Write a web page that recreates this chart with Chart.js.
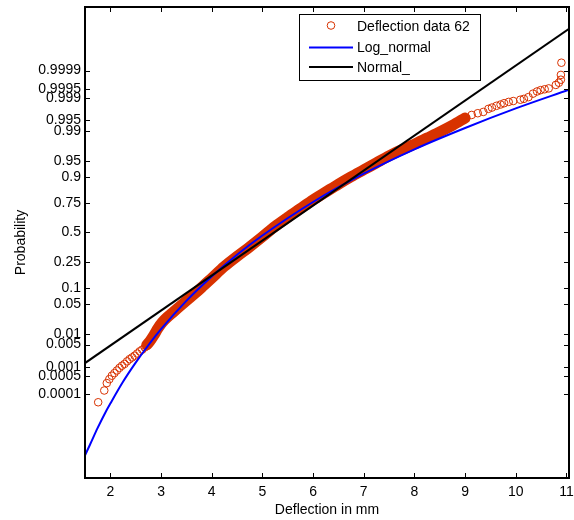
<!DOCTYPE html>
<html>
<head>
<meta charset="utf-8">
<script src="https://cdn.jsdelivr.net/npm/chart.js@4"></script>
<style>
  html, body { margin: 0; padding: 0; background: #fff; }
  canvas { display: block; }
</style>
</head>
<body>
<canvas id="probChart" width="574" height="520"></canvas>
<script>
// y values are normal quantiles (the probability-plot scale), x is deflection in mm

// sparse lower tail of the sample
const lowTailX = [1.76, 1.88, 1.93, 1.98, 2.03, 2.08, 2.13, 2.18, 2.23, 2.28, 2.33, 2.38, 2.43, 2.48, 2.53, 2.58, 2.63, 2.68]
const lowTailZ = [-3.90, -3.63, -3.46, -3.37, -3.29, -3.23, -3.17, -3.11, -3.06, -3.02, -2.96, -2.91, -2.87, -2.83, -2.78, -2.73, -2.69, -2.64]

// dense middle of the sample (overlapping markers)
const denseX = [2.72, 2.78, 2.86, 2.94, 3.02, 3.12, 3.25, 3.40, 3.55, 3.70, 3.85, 4.00, 4.25, 4.50, 4.75, 5.00, 5.25, 5.50, 5.75, 6.00, 6.25, 6.50, 6.75, 7.00, 7.25, 7.50, 7.75, 8.00, 8.25, 8.50, 8.75, 9.00]
const denseZ = [-2.58, -2.50, -2.36, -2.20, -2.07, -1.95, -1.82, -1.67, -1.52, -1.37, -1.21, -1.05, -0.78, -0.55, -0.33, -0.10, 0.14, 0.35, 0.55, 0.75, 0.93, 1.11, 1.28, 1.44, 1.60, 1.76, 1.90, 2.03, 2.17, 2.31, 2.46, 2.63]

// sparse upper tail
const highTailX = [9.13, 9.25, 9.36, 9.46, 9.53, 9.62, 9.70, 9.77, 9.86, 9.95, 10.09, 10.16, 10.25, 10.34, 10.42, 10.49, 10.57, 10.65, 10.79, 10.85, 10.89, 10.89, 10.90]
const highTailZ = [2.70, 2.74, 2.77, 2.84, 2.87, 2.91, 2.94, 2.97, 3.00, 3.02, 3.05, 3.07, 3.11, 3.19, 3.24, 3.27, 3.29, 3.31, 3.39, 3.44, 3.51, 3.62, 3.90]

// fitted lines
const logNormX = [1.5, 1.6, 1.75, 1.9, 2.0, 2.25, 2.5, 2.75, 3.0, 3.5, 4.0, 4.5, 5.0, 6.0, 7.0, 8.0, 9.0, 10.0, 11.05]
const logNormZ = [-5.12, -4.87, -4.49, -4.14, -3.93, -3.43, -2.99, -2.59, -2.22, -1.57, -1.01, -0.51, -0.07, 0.70, 1.35, 1.91, 2.40, 2.85, 3.28]
const normX = [1.5, 11.05]
const normZ = [-3.00, 4.68]

const xTicks = [2, 3, 4, 5, 6, 7, 8, 9, 10, 11]
const yTickLabels = ['0.0001', '0.0005', '0.001', '0.005', '0.01', '0.05', '0.1', '0.25', '0.5', '0.75', '0.9', '0.95', '0.99', '0.995', '0.999', '0.9995', '0.9999']

const seriesNames = ['Deflection data 62', 'Log_normal', 'Normal_']
const RED = '#d83200'
const FONT = "'Liberation Sans', Arial, sans-serif"

// inverse standard normal cdf (Acklam)
function norminv(p) {
    const a = [-3.969683028665376e+01, 2.209460984245205e+02, -2.759285104469687e+02, 1.383577518672690e+02, -3.066479806614716e+01, 2.506628277459239e+00]
    const b = [-5.447609879822406e+01, 1.615858368580409e+02, -1.556989798598866e+02, 6.680131188771972e+01, -1.328068155288572e+01]
    const c = [-7.784894002430293e-03, -3.223964580411365e-01, -2.400758277161838e+00, -2.549671010229583e+00, 4.374664141464968e+00, 2.938163982698783e+00]
    const d = [7.784695709041462e-03, 3.224671290700398e-01, 2.445134137142996e+00, 3.754408661907416e+00]
    const lo = 0.02425
    if (p < lo) {
        const q = Math.sqrt(-2 * Math.log(p))
        return (((((c[0] * q + c[1]) * q + c[2]) * q + c[3]) * q + c[4]) * q + c[5]) / ((((d[0] * q + d[1]) * q + d[2]) * q + d[3]) * q + 1)
    }
    if (p > 1 - lo) {
        const q = Math.sqrt(-2 * Math.log(1 - p))
        return -(((((c[0] * q + c[1]) * q + c[2]) * q + c[3]) * q + c[4]) * q + c[5]) / ((((d[0] * q + d[1]) * q + d[2]) * q + d[3]) * q + 1)
    }
    const q = p - 0.5, r = q * q
    return (((((a[0] * r + a[1]) * r + a[2]) * r + a[3]) * r + a[4]) * r + a[5]) * q / (((((b[0] * r + b[1]) * r + b[2]) * r + b[3]) * r + b[4]) * r + 1)
}

const pairs = (xs, zs) => xs.map((x, i) => ({ x: x, y: zs[i] }))
const samplePoints = pairs(lowTailX.concat(denseX, highTailX), lowTailZ.concat(denseZ, highTailZ))

// box frame + inward ticks on all four sides
const frameTicks = {
    id: 'frameTicks',
    afterDraw(chart) {
        const { ctx, chartArea: { top, bottom, left, right }, scales: { x, y } } = chart
        ctx.save()
        ctx.strokeStyle = '#000'
        ctx.lineWidth = 1
        ctx.beginPath()
        x.ticks.forEach(t => {
            const px = Math.round(x.getPixelForValue(t.value)) + 0.5
            ctx.moveTo(px, bottom); ctx.lineTo(px, bottom - 5)
            ctx.moveTo(px, top); ctx.lineTo(px, top + 5)
        })
        y.ticks.forEach(t => {
            const py = Math.round(y.getPixelForValue(t.value)) + 0.5
            ctx.moveTo(left, py); ctx.lineTo(left + 5, py)
            ctx.moveTo(right, py); ctx.lineTo(right - 5, py)
        })
        ctx.stroke()
        ctx.lineWidth = 2
        ctx.strokeRect(left, top, right - left, bottom - top)
        ctx.restore()
    }
}

// matlab style legend box in the upper right
const boxLegend = {
    id: 'boxLegend',
    afterDraw(chart) {
        const ctx = chart.ctx
        ctx.save()
        ctx.fillStyle = '#fff'
        ctx.fillRect(299.5, 14.5, 181, 66)
        ctx.strokeStyle = '#000'
        ctx.lineWidth = 1
        ctx.strokeRect(299.5, 14.5, 181, 66)

        ctx.strokeStyle = RED
        ctx.beginPath()
        ctx.arc(331, 25.5, 3.8, 0, Math.PI * 2)
        ctx.stroke()

        ctx.lineWidth = 2
        ctx.strokeStyle = '#0000ff'
        ctx.beginPath(); ctx.moveTo(309, 47.5); ctx.lineTo(353, 47.5); ctx.stroke()
        ctx.strokeStyle = '#000'
        ctx.beginPath(); ctx.moveTo(309, 67); ctx.lineTo(353, 67); ctx.stroke()

        ctx.fillStyle = '#000'
        ctx.font = '14px ' + FONT
        ctx.textBaseline = 'middle'
        ctx.textAlign = 'left'
        ctx.fillText(seriesNames[0], 357, 27)
        ctx.fillText(seriesNames[1], 357, 48.5)
        ctx.fillText(seriesNames[2], 357, 68.5)
        ctx.restore()
    }
}

new Chart(document.getElementById('probChart'), {
    type: 'scatter',
    data: {
        datasets: [
            { label: seriesNames[2], data: pairs(normX, normZ), showLine: true, borderColor: '#000', borderWidth: 2, pointRadius: 0 },
            { label: seriesNames[1], data: pairs(logNormX, logNormZ), showLine: true, borderColor: '#0000ff', borderWidth: 2, pointRadius: 0, cubicInterpolationMode: 'monotone' },
            { label: seriesNames[0], data: samplePoints, showLine: false, pointStyle: 'circle', pointRadius: 3.8, borderColor: RED, backgroundColor: 'rgba(0,0,0,0)', borderWidth: 1 },
            { label: 'band', data: pairs(denseX, denseZ), showLine: true, borderColor: RED, borderWidth: 11, borderCapStyle: 'round', pointRadius: 0, tension: 0.3 }
        ]
    },
    options: {
        responsive: false,
        animation: false,
        devicePixelRatio: 1,
        layout: { padding: { left: 0, right: 5, top: 7, bottom: 0 } },
        plugins: { legend: { display: false }, tooltip: { enabled: false } },
        scales: {
            x: {
                type: 'linear', min: 1.5, max: 11.05,
                afterBuildTicks: s => { s.ticks = xTicks.map(v => ({ value: v })) },
                afterFit: s => { s.height = 42; s.paddingLeft = 0; s.paddingRight = 0 },
                grid: { display: false, drawTicks: false },
                border: { display: false },
                ticks: { autoSkip: false, padding: 6, color: '#000', font: { family: FONT, size: 14 }, maxRotation: 0 },
                title: { display: true, text: 'Deflection in mm', color: '#000', font: { family: FONT, size: 14 }, padding: { top: 0, bottom: 1 } }
            },
            y: {
                type: 'linear', min: -5.64, max: 5.18,
                afterBuildTicks: s => { s.ticks = yTickLabels.map(p => ({ value: norminv(parseFloat(p)) })) },
                afterFit: s => { s.width = 85; s.paddingTop = 0; s.paddingBottom = 0 },
                grid: { display: false, drawTicks: false },
                border: { display: false },
                ticks: { autoSkip: false, padding: 4, color: '#000', font: { family: FONT, size: 14 }, callback: (v, i) => yTickLabels[i] },
                title: { display: true, text: 'Probability', color: '#000', font: { family: FONT, size: 14 }, padding: { top: 13 } }
            }
        }
    },
    plugins: [frameTicks, boxLegend]
})
</script>
</body>
</html>
